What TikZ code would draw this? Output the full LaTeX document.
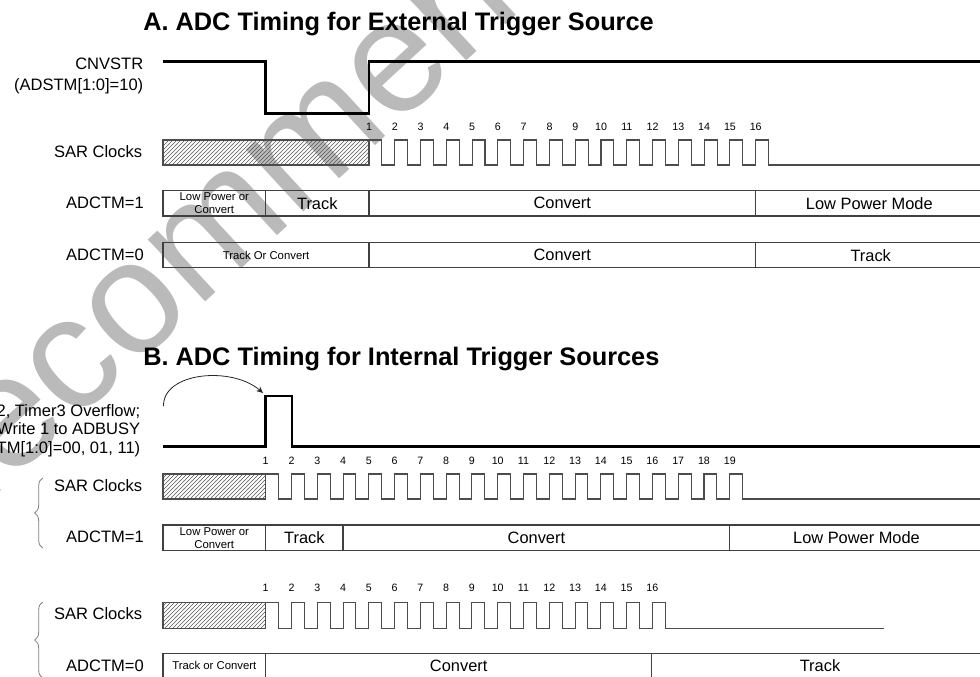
\documentclass[tikz,border=0pt]{standalone}
\usepackage{fontspec}
\setmainfont{Liberation Sans}
\usetikzlibrary{patterns,arrows.meta,decorations.pathreplacing}

\begin{document}
\begin{tikzpicture}[x=0.75pt,y=-0.75pt,
  sig/.style={line width=2.2pt,black},
  clk/.style={line width=0.8pt,black!70},
  box/.style={line width=0.8pt,black!75},
  hatch/.style={draw=black!70,line width=0.8pt,pattern=north east lines,pattern color=black!65},
  lbl/.style={anchor=base east,inner sep=0pt,font=\fontsize{12.4}{15}\selectfont},
  txt/.style={inner sep=0pt,font=\fontsize{12.3}{15}\selectfont},
  smalltxt/.style={inner sep=0pt,align=center,font=\fontsize{8.5}{9.8}\selectfont},
  num/.style={inner sep=0pt,font=\fontsize{8}{9}\selectfont},
  ttl/.style={anchor=base west,inner sep=0pt,font=\fontsize{19}{22}\selectfont\bfseries},
  brc/.style={decorate,decoration={brace,amplitude=6pt},black!50,line width=0.6pt},
  trig/.style={line width=0.6pt,black!85,-{Stealth[length=5pt,width=4.5pt]}},
  wmark/.style={rotate=42.7,anchor=base west,inner sep=0pt,text=black!27,font=\fontsize{120}{120}\selectfont}]
\useasboundingbox (0,0) rectangle (980,677);
\clip (0,0) rectangle (980,677);

%watermark
\node[wmark] (wm) at (-77.5,563.4) {Recommended};

%titles
\node[ttl] (titleA) at (143,31) {A. ADC Timing for External Trigger Source};
\node[ttl] (titleB) at (143,365) {B. ADC Timing for Internal Trigger Sources};

%left labels, part A
\node[lbl] (cnvstr) at (143.5,70) {CNVSTR};
\node[lbl] (adstmA) at (143.5,90.5) {(ADSTM[1:0]=10)};
\node[lbl] (sarA) at (142.5,157.6) {SAR Clocks};
\node[lbl] (tmA1) at (144,208.6) {ADCTM=1};
\node[lbl] (tmA0) at (144,260) {ADCTM=0};

%CNVSTR waveform
\draw[sig] (163,61.7) -- (265.7,61.7) -- (265.7,113.3) -- (369,113.3) -- (369,61.7) -- (985,61.7);

%SAR clocks, part A
\draw[hatch] (163,140) rectangle (369,165);
\draw[clk] (369,140) foreach \k in {1,...,15}{ -- ++(12.89,0) -- ++(0,25) -- ++(12.89,0) -- ++(0,-25)}
   -- ++(12.89,0) -- ++(0,25) -- (985,165);
\foreach \n in {1,...,16}
   \node[num] (clkA\n) at ({369+(\n-1)*25.78},126.7) {\n};

%ADCTM rows, part A
\draw[box] (163,190.7) rectangle (990,216);
\foreach \x in {265.7,369,755.7}
   \draw[box] (\x,190.7) -- (\x,216);
\node[smalltxt] (lpA1) at (214.3,203.3) {Low Power or\\Convert};
\node[txt] (trkA1) at (317.3,203.3) {Track};
\node[txt] (cnvA1) at (562.3,203.3) {Convert};
\node[txt] (lpmA1) at (869.3,203.3) {Low Power Mode};

\draw[box] (163,242.7) rectangle (990,267.7);
\foreach \x in {369,755.7}
   \draw[box] (\x,242.7) -- (\x,267.7);
\node[smalltxt] (tocA0) at (266,255.2) {Track Or Convert};
\node[txt] (cnvA0) at (562.3,255.2) {Convert};
\node[txt] (trkA0) at (870.7,255.2) {Track};

%left labels, part B
\node[lbl] (srcB1) at (140.5,416) {2, Timer3 Overflow;};
\node[lbl] (srcB2) at (140.5,434.5) {Write 1 to ADBUSY};
\node[lbl] (adstmB) at (140.5,453) {TM[1:0]=00, 01, 11)};
\node[lbl] (sarB1) at (142.5,491.6) {SAR Clocks};
\node[lbl] (tmB1) at (144,542.6) {ADCTM=1};
\node[lbl] (sarB0) at (142.5,619.2) {SAR Clocks};
\node[lbl] (tmB0) at (144,671.9) {ADCTM=0};

%trigger pulse
\draw[sig] (163,446.7) -- (265.7,446.7) -- (265.7,396) -- (292,396) -- (292,446.7) -- (985,446.7);
\coordinate (trigsrc) at (163.5,406);
\coordinate (trigpulse) at (263,393);
\draw[trig] (trigsrc) .. controls (163,372) and (232,366) .. (trigpulse);

%braces
\draw[brc] (42.7,548) -- (42.7,478);
\draw[brc] (42.7,678) -- (42.7,602);

%SAR clocks, part B, ADCTM=1
\draw[hatch] (163,474) rectangle (265.7,499);
\draw[clk] (265.7,474) foreach \k in {1,...,18}{ -- ++(12.89,0) -- ++(0,25) -- ++(12.89,0) -- ++(0,-25)}
   -- ++(12.89,0) -- ++(0,25) -- (985,499);
\foreach \n in {1,...,19}
   \node[num] (clkB\n) at ({265.7+(\n-1)*25.78},460.5) {\n};

\draw[box] (163,525) rectangle (990,550.7);
\foreach \x in {265.7,343,729.8}
   \draw[box] (\x,525) -- (\x,550.7);
\node[smalltxt] (lpB1) at (214.3,537.8) {Low Power or\\Convert};
\node[txt] (trkB1) at (304.4,537.8) {Track};
\node[txt] (cnvB1) at (536.4,537.8) {Convert};
\node[txt] (lpmB1) at (856.5,537.8) {Low Power Mode};

%SAR clocks, part B, ADCTM=0
\draw[hatch] (163,602.3) rectangle (265.7,628.3);
\draw[clk] (265.7,602.3) foreach \k in {1,...,15}{ -- ++(12.89,0) -- ++(0,26) -- ++(12.89,0) -- ++(0,-26)}
   -- ++(12.89,0) -- ++(0,26) -- (884,628.3);
\foreach \n in {1,...,16}
   \node[num] (clkC\n) at ({265.7+(\n-1)*25.78},588) {\n};

\draw[box] (163,653.3) rectangle (990,690);
\foreach \x in {265.7,651.8}
   \draw[box] (\x,653.3) -- (\x,690);
\node[smalltxt] (tocB0) at (214.3,665.5) {Track or Convert};
\node[txt] (cnvB0) at (458.7,665.5) {Convert};
\node[txt] (trkB0) at (820,665.5) {Track};
\end{tikzpicture}
\end{document}
